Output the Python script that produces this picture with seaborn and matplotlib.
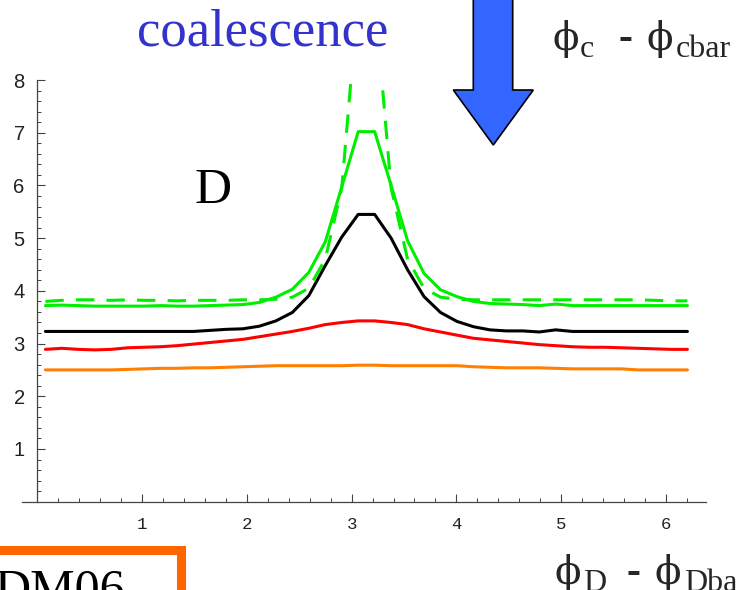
import numpy as np
import pandas as pd
import matplotlib
matplotlib.use("Agg")
import matplotlib.pyplot as plt
from matplotlib.patches import Polygon, Rectangle
from matplotlib.ticker import MultipleLocator
import seaborn as sns

# sample points: 40 evenly spaced phases over one period
phase = (np.arange(40) + 0.5) * np.pi / 20

green_dashed = [3.80, 3.82, 3.83, 3.83, 3.82, 3.83, 3.82, 3.82, 3.81, 3.82, 3.82, 3.82, 3.83,
                3.83, 3.84, 3.88, 4.05, 4.60, 5.95, 9.60, 9.60, 5.95, 4.60, 4.05, 3.88, 3.84, 3.83,
                3.83, 3.83, 3.83, 3.83, 3.83, 3.83, 3.83, 3.83, 3.83, 3.83, 3.82, 3.81, 3.81]
green_solid = [3.72, 3.73, 3.72, 3.71, 3.71, 3.71, 3.71, 3.72, 3.71, 3.71, 3.72, 3.73, 3.74,
               3.78, 3.88, 4.03, 4.35, 4.93, 5.97, 7.02, 7.02, 6.00, 4.95, 4.33, 4.02, 3.89, 3.80,
               3.76, 3.75, 3.74, 3.72, 3.75, 3.72, 3.72, 3.72, 3.72, 3.72, 3.72, 3.72, 3.72]
black = [3.23, 3.23, 3.23, 3.23, 3.23, 3.23, 3.23, 3.23, 3.23, 3.23, 3.25, 3.27, 3.28,
         3.33, 3.43, 3.59, 3.91, 4.48, 5.02, 5.45, 5.45, 5.00, 4.40, 3.89, 3.59, 3.42, 3.32,
         3.26, 3.24, 3.24, 3.22, 3.26, 3.23, 3.23, 3.23, 3.23, 3.23, 3.23, 3.23, 3.23]
red = [2.89, 2.91, 2.89, 2.88, 2.89, 2.92, 2.93, 2.94, 2.96, 2.99, 3.02, 3.05, 3.08,
       3.13, 3.18, 3.23, 3.29, 3.36, 3.40, 3.43, 3.43, 3.40, 3.36, 3.28, 3.22, 3.16, 3.10,
       3.07, 3.04, 3.01, 2.98, 2.96, 2.94, 2.93, 2.93, 2.92, 2.91, 2.90, 2.89, 2.89]
orange = [2.50, 2.50, 2.50, 2.50, 2.50, 2.51, 2.52, 2.53, 2.53, 2.54, 2.54, 2.55, 2.56,
          2.57, 2.58, 2.58, 2.58, 2.58, 2.58, 2.59, 2.59, 2.58, 2.58, 2.58, 2.58, 2.58, 2.56,
          2.55, 2.54, 2.54, 2.54, 2.53, 2.52, 2.52, 2.52, 2.52, 2.50, 2.50, 2.50, 2.50]

y_ticks = [1, 2, 3, 4, 5, 6, 7, 8]
x_ticks = [1, 2, 3, 4, 5, 6]

series = [
    ("orange", orange, "#ff7f00", "-"),
    ("red", red, "#ff0000", "-"),
    ("black", black, "#000000", "-"),
    ("green", green_solid, "#00ee00", "-"),
    ("green dashed", green_dashed, "#00ee00", "--"),
]

sns.set_style("white")

W, H = 738, 590
fig = plt.figure(figsize=(W / 100, H / 100), dpi=100)

def fx(px):
    return px / W

def fy(py):
    return 1 - py / H

# axes frame: x from -0.147 to 6.38, y from 0 to 8
ax = fig.add_axes([fx(21.8), fy(501.7), (705.8 - 21.8) / W, (501.7 - 80) / H])
ax.patch.set_alpha(0)

for name, vals, col, ls in series:
    df = pd.DataFrame({"phase": phase, "value": vals})
    sns.lineplot(data=df, x="phase", y="value", ax=ax, color=col,
                 linewidth=2.2, sort=False)
    if ls == "--":
        ax.lines[-1].set_dashes((6, 4))

ax.set_xlim(-0.147, 6.38)
ax.set_ylim(0, 8)
ax.set_xlabel("")
ax.set_ylabel("")

for s in ["top", "right"]:
    ax.spines[s].set_visible(False)
ax.spines["left"].set_position(("data", 0))
for s in ["left", "bottom"]:
    ax.spines[s].set_color("#444444")
    ax.spines[s].set_linewidth(0.9)
ax.spines["left"].set_bounds(0, 8)

ax.set_xticks(x_ticks)
ax.set_xticklabels([str(v) for v in x_ticks], fontfamily="Liberation Mono",
                   fontsize=12.5, color="#222222")
ax.set_yticks(y_ticks)
ax.set_yticklabels([str(v) for v in y_ticks], fontfamily="Liberation Sans",
                   fontsize=14.5, color="#222222")
ax.xaxis.set_minor_locator(MultipleLocator(0.2))
ax.yaxis.set_minor_locator(MultipleLocator(0.2))
ax.tick_params(axis="both", which="both", bottom=True, left=True,
               top=False, right=False)
ax.tick_params(axis="both", which="major", direction="in", length=6,
               width=0.8, color="#444444")
ax.tick_params(axis="both", which="minor", direction="in", length=3.2,
               width=0.7, color="#444444")
ax.tick_params(axis="y", which="major", pad=9)
ax.tick_params(axis="x", which="major", pad=11)
ax.grid(False)

serif = ["Liberation Serif", "DejaVu Serif"]
phi_font = ["DejaVu Serif"]

fig.text(fx(263), fy(45), "coalescence", ha="center", va="baseline",
         fontsize=38, color="#3333cc", family=serif)
fig.text(fx(213), fy(203), "D", ha="center", va="baseline",
         fontsize=37, color="black", family=serif)

# block arrow pointing down
arrow = [(473.3, -5), (512.7, -5), (512.7, 90), (533.3, 90), (493.3, 145),
         (453.3, 90), (473.3, 90)]
fig.patches.append(Polygon([(fx(a), fy(b)) for a, b in arrow], closed=True,
                           facecolor="#3366ff", edgecolor="black", linewidth=1.2,
                           transform=fig.transFigure, figure=fig))

# phase-difference labels
def phase_label(x0, base, sub1, sub2, gap=0):
    fig.text(fx(x0), fy(base), "\u03d5", fontsize=28, family=phi_font, va="baseline")
    fig.text(fx(x0 + 28), fy(base + 7), sub1, fontsize=23, family=serif, va="baseline")
    fig.text(fx(x0 + 66 + gap), fy(base - 1), "-", fontsize=30, family=serif,
             va="baseline", fontweight="bold")
    fig.text(fx(x0 + 95 + gap), fy(base), "\u03d5", fontsize=28, family=phi_font,
             va="baseline")
    fig.text(fx(x0 + 124 + gap), fy(base + 7), sub2, fontsize=23, family=serif,
             va="baseline")

phase_label(552, 50, "c", "cbar")
phase_label(555, 584, "D", "Dbar", gap=5)

# boxed tag at lower left
fig.patches.append(Rectangle((fx(-20), fy(650)), fx(201), fy(550) - fy(650),
                             fill=False, edgecolor="#ff6600", linewidth=6.5,
                             transform=fig.transFigure, figure=fig))
fig.text(fx(125), fy(604), "DM06", ha="right", va="baseline", fontsize=36,
         family=serif, color="black")

fig.savefig("out.png", dpi=100)
